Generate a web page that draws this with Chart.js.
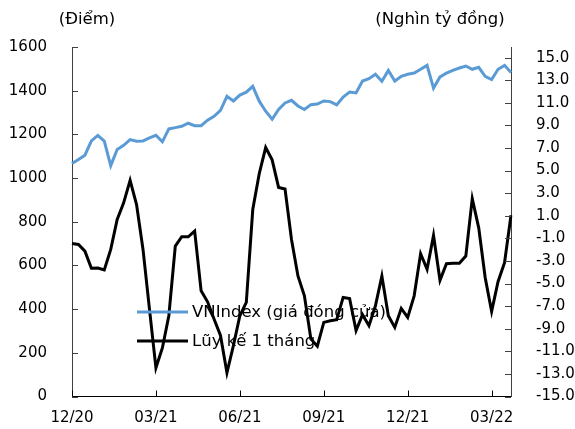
<!DOCTYPE html>
<html>
<head>
<meta charset="utf-8">
<script src="https://cdn.jsdelivr.net/npm/chart.js@4/dist/chart.umd.min.js"></script>
<style>
  html, body { margin: 0; padding: 0; background: #fff; }
  #wrap { width: 575px; height: 429px; }
</style>
</head>
<body>
<div id="wrap"><canvas id="chart"></canvas></div>
<script>
// weekly closes of VNIndex (points) and cumulative 1-month flow (thousand bn VND)
var vnIndex = [1067, 1085, 1105, 1170, 1195, 1169, 1057, 1131, 1150, 1176,
  1169, 1170, 1184, 1196, 1166, 1225, 1231, 1237, 1251, 1240,
  1240, 1265, 1283, 1310, 1374, 1353, 1380, 1393, 1420, 1352,
  1306, 1269, 1314, 1344, 1356, 1330, 1314, 1336, 1339, 1353,
  1350, 1335, 1371, 1394, 1390, 1444, 1455, 1475, 1443, 1493,
  1444, 1466, 1475, 1481, 1498, 1516, 1412, 1463, 1480, 1493,
  1504, 1513, 1498, 1507, 1466, 1451, 1498, 1516, 1483];

var flow = [-1.45, -1.54, -2.13, -3.65, -3.62, -3.8, -1.98, 0.67, 2.14, 4.13,
  1.99, -1.98, -7.26, -12.46, -10.7, -7.85, -1.69, -0.86, -0.86, -0.36,
  -5.65, -6.62, -8.14, -9.6, -12.9, -10.5, -7.85, -6.67, 1.55, 4.72,
  7.04, 5.95, 3.51, 3.37, -1.1, -4.33, -6.09, -9.9, -10.55, -8.44,
  -8.3, -8.2, -6.23, -6.32, -9.17, -7.76, -8.73, -6.97, -4.33, -7.85,
  -8.88, -7.2, -8.0, -6.09, -2.36, -3.74, -0.74, -4.71, -3.24, -3.21,
  -3.21, -2.57, 2.52, -0.07, -4.47, -7.47, -4.82, -3.15, 1.05];

var tickLabels = ['12/20', '03/21', '06/21', '09/21', '12/21', '03/22'];
var tickIndex = [0, 13, 26, 39, 52, 65];
var leftTicks = [0, 200, 400, 600, 800, 1000, 1200, 1400, 1600];
var rightTicks = [-15, -13, -11, -9, -7, -5, -3, -1, 1, 3, 5, 7, 9, 11, 13, 15];
var seriesNames = ['VNIndex (giá đóng cửa)', 'Lũy kế 1 tháng'];
var axisTitles = ['(Điểm)', '(Nghìn tỷ đồng)'];

var categories = vnIndex.map(function (v, i) { return i; });

Chart.defaults.font.family = 'DejaVu Sans';
Chart.defaults.font.size = 15;
Chart.defaults.color = '#000';

var blue = 'rgb(91,155,213)';
var black = '#000';
var axisColor = '#404040';

// inward tick marks, axis titles and the in-plot legend
var extras = {
  id: 'extras',
  afterDatasetsDraw: function (chart) {
    var ctx = chart.ctx;
    var a = chart.chartArea;
    var sx = chart.scales.x, sy = chart.scales.y, sy2 = chart.scales.y2;
    ctx.save();
    ctx.lineWidth = 1;
    ctx.strokeStyle = axisColor;
    leftTicks.forEach(function (v) {
      var p = Math.round(sy.getPixelForValue(v)) + 0.5;
      ctx.beginPath(); ctx.moveTo(a.left, p); ctx.lineTo(a.left + 6, p); ctx.stroke();
    });
    rightTicks.forEach(function (v) {
      var p = Math.round(sy2.getPixelForValue(v)) + 0.5;
      ctx.beginPath(); ctx.moveTo(a.right - 6, p); ctx.lineTo(a.right, p); ctx.stroke();
    });
    ctx.strokeStyle = '#000';
    tickIndex.forEach(function (i) {
      var p = Math.round(sx.getPixelForValue(i)) + 0.5;
      ctx.beginPath(); ctx.moveTo(p, a.bottom); ctx.lineTo(p, a.bottom - 6); ctx.stroke();
    });

    ctx.fillStyle = '#000';
    ctx.font = '16.5px "DejaVu Sans"';
    ctx.textAlign = 'center';
    ctx.textBaseline = 'middle';
    ctx.fillText(axisTitles[0], 87, 20);
    ctx.fillText(axisTitles[1], 440, 20);

    var colors = [blue, black];
    var rows = [312, 341];
    ctx.textAlign = 'left';
    seriesNames.forEach(function (name, k) {
      ctx.strokeStyle = colors[k];
      ctx.lineWidth = 3;
      ctx.beginPath(); ctx.moveTo(137, rows[k]); ctx.lineTo(188, rows[k]); ctx.stroke();
      ctx.fillText(name, 192, rows[k] + 1);
    });
    ctx.restore();
  }
};

new Chart(document.getElementById('chart'), {
  type: 'line',
  data: {
    labels: categories,
    datasets: [{
      label: seriesNames[0],
      data: vnIndex,
      yAxisID: 'y',
      borderColor: blue,
      borderWidth: 3,
      pointRadius: 0,
      tension: 0,
      fill: false
    }, {
      label: seriesNames[1],
      data: flow,
      yAxisID: 'y2',
      borderColor: black,
      borderWidth: 3,
      pointRadius: 0,
      tension: 0,
      fill: false
    }]
  },
  options: {
    responsive: true,
    maintainAspectRatio: false,
    animation: false,
    devicePixelRatio: 1,
    layout: { padding: { top: 47, left: 0, right: 0, bottom: 0 } },
    plugins: { legend: { display: false }, tooltip: { enabled: false } },
    scales: {
      x: {
        type: 'category',
        grid: { display: false },
        border: { display: true, color: '#000', width: 1 },
        ticks: {
          autoSkip: false,
          maxRotation: 0,
          padding: 5,
          callback: function (v, i) {
            var k = tickIndex.indexOf(i);
            return k >= 0 ? tickLabels[k] : '';
          }
        },
        afterFit: function (s) { s.height = 32.5; }
      },
      y: {
        position: 'left',
        min: 0,
        max: 1600,
        grid: { display: false },
        border: { display: true, color: axisColor, width: 1 },
        ticks: {
          stepSize: 200,
          padding: 17,
          callback: function (v) { return String(v); }
        },
        afterFit: function (s) { s.width = 72; }
      },
      y2: {
        position: 'right',
        min: -15,
        max: 15.94,
        grid: { display: false },
        border: { display: true, color: axisColor, width: 1 },
        afterBuildTicks: function (s) {
          s.ticks = rightTicks.map(function (v) { return { value: v }; });
        },
        ticks: {
          padding: 17,
          callback: function (v) { return Number(v).toFixed(1); }
        },
        afterFit: function (s) { s.width = 64; }
      }
    }
  },
  plugins: [extras]
});
</script>
</body>
</html>
